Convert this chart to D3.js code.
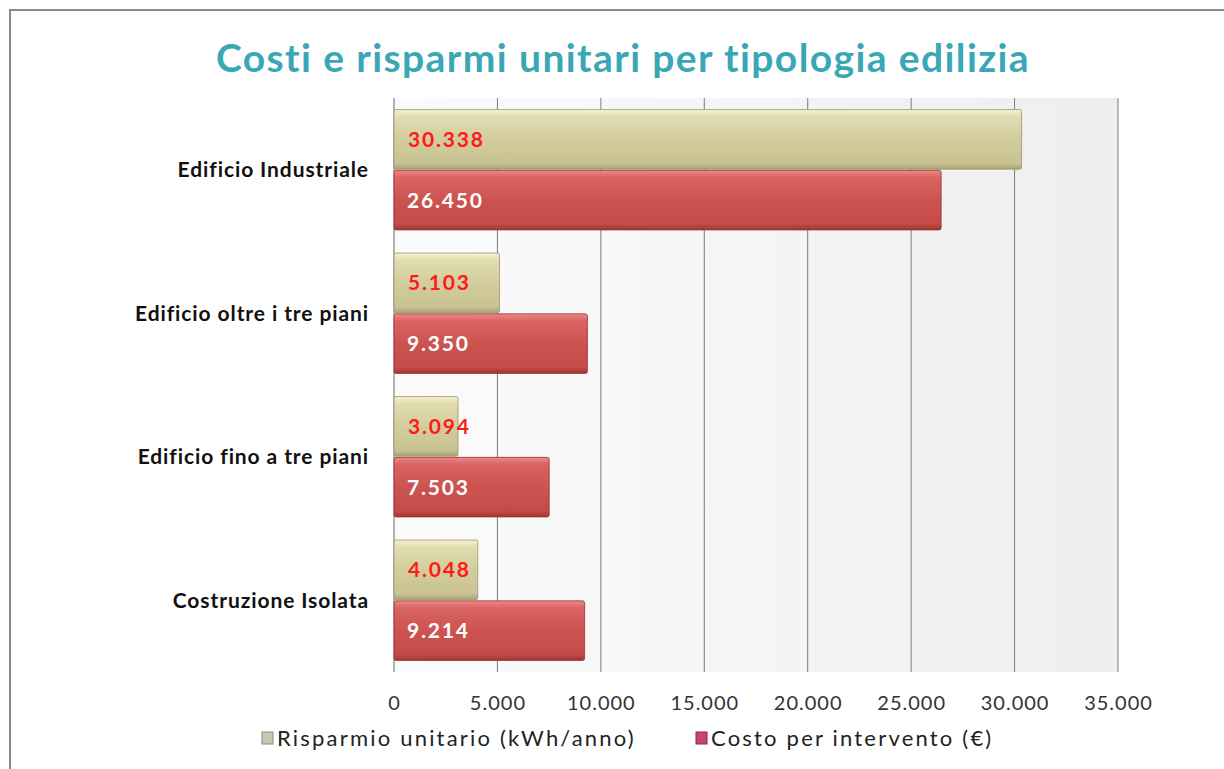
<!DOCTYPE html>
<html>
<head>
<meta charset="utf-8">
<script src="https://cdn.jsdelivr.net/npm/d3@7"></script>
<style>
body { margin: 0; background: #fff; }
svg { display: block; font-family: Lato, "Open Sans", sans-serif; }
</style>
</head>
<body>
<svg width="1224" height="769"></svg>
<script>
// chart data
const categories = ["Edificio Industriale", "Edificio oltre i tre piani", "Edificio fino a tre piani", "Costruzione Isolata"]
const risparmio = [30338, 5103, 3094, 4048]
const costo = [26450, 9350, 7503, 9214]
const seriesNames = ["Risparmio unitario (kWh/anno)", "Costo per intervento (€)"]
const xTicks = [0, 5000, 10000, 15000, 20000, 25000, 30000, 35000]

const svg = d3.select("svg")
const fmt = v => d3.format(",")(v).replace(/,/g, ".")

const PLOT_LEFT = 394, PLOT_RIGHT = 1118, PLOT_TOP = 98, PLOT_BOTTOM = 672

// frame
svg.append("rect")
    .attr("x", 10).attr("y", 10)
    .attr("width", 1230).attr("height", 780)
    .attr("fill", "none").attr("stroke", "#8a8a8a").attr("stroke-width", 2)

const defs = svg.append("defs")
function vgrad(id, stops){
    const g = defs.append("linearGradient").attr("id", id)
        .attr("x1", 0).attr("y1", 0).attr("x2", 0).attr("y2", 1)
    for (var s of stops) g.append("stop").attr("offset", s[0]).attr("stop-color", s[1])
}
vgrad("beige", [[0, "#f6f2d2"], [0.12, "#e2dcb2"], [0.5, "#d3cc9c"], [0.9, "#c9c292"], [1, "#a9a275"]])
vgrad("red", [[0, "#ec8a88"], [0.12, "#d96462"], [0.5, "#cc5350"], [0.9, "#c44b48"], [1, "#9e3634"]])
const bg = defs.append("linearGradient").attr("id", "bg")
    .attr("x1", 0).attr("y1", 0).attr("x2", 1).attr("y2", 0)
bg.append("stop").attr("offset", 0).attr("stop-color", "#fbfbfb")
bg.append("stop").attr("offset", 1).attr("stop-color", "#eeeeee")

const x = d3.scaleLinear().domain([0, 35000]).range([PLOT_LEFT, PLOT_RIGHT])
const y = d3.scaleBand().domain(categories).range([PLOT_TOP, PLOT_BOTTOM])
const inner = d3.scaleBand().domain([0, 1]).range([0, y.bandwidth()]).paddingInner(0.02).paddingOuter(0.19)

// plot background
svg.append("rect")
    .attr("x", PLOT_LEFT).attr("y", PLOT_TOP)
    .attr("width", PLOT_RIGHT - PLOT_LEFT).attr("height", PLOT_BOTTOM - PLOT_TOP)
    .attr("fill", "url(#bg)")

// gridlines
svg.append("g")
    .selectAll("line")
    .data(xTicks)
    .enter().append("line")
    .attr("x1", d => x(d)).attr("x2", d => x(d))
    .attr("y1", PLOT_TOP).attr("y2", PLOT_BOTTOM)
    .attr("stroke", d => d === 0 ? "#666" : "#7c7c7c")
    .attr("stroke-width", 1)

// title
svg.append("text")
    .attr("x", 623).attr("y", 72)
    .attr("text-anchor", "middle")
    .attr("font-size", 39).attr("font-weight", "bold")
    .attr("letter-spacing", 1.4)
    .attr("fill", "#3aa7b6")
    .text("Costi e risparmi unitari per tipologia edilizia")

// bars
const series = [
    {name: seriesNames[0], values: risparmio, fill: "url(#beige)", labelColor: "#ff1a1a", labelDx: 14},
    {name: seriesNames[1], values: costo, fill: "url(#red)", labelColor: "#ffffff", labelDx: 13}
]
series.forEach((s, si) => {
    const g = svg.append("g")
    g.selectAll("rect")
        .data(categories)
        .enter().append("rect")
        .attr("x", x(0))
        .attr("y", d => y(d) + inner(si))
        .attr("width", (d, i) => x(s.values[i]) - x(0))
        .attr("height", inner.bandwidth())
        .attr("rx", 2)
        .attr("fill", s.fill)
        .attr("stroke", si === 0 ? "#9c9670" : "#983230")
        .attr("stroke-width", 0.8)
    g.selectAll("text")
        .data(categories)
        .enter().append("text")
        .attr("x", x(0) + s.labelDx)
        .attr("y", d => y(d) + inner(si) + inner.bandwidth() / 2)
        .attr("dy", "0.36em")
        .attr("font-size", 21).attr("font-weight", "bold")
        .attr("letter-spacing", 1.8)
        .attr("fill", s.labelColor)
        .text((d, i) => fmt(s.values[i]))
})

// category labels
svg.append("g")
    .selectAll("text")
    .data(categories)
    .enter().append("text")
    .attr("x", 369)
    .attr("y", d => y(d) + y.bandwidth() / 2)
    .attr("dy", "0.36em")
    .attr("text-anchor", "end")
    .attr("font-size", 21).attr("font-weight", "bold")
    .attr("letter-spacing", 0.9)
    .attr("fill", "#111")
    .text(d => d)

// x axis
const xAxis = svg.append("g")
    .attr("transform", `translate(0,${PLOT_BOTTOM})`)
    .call(d3.axisBottom(x).tickValues(xTicks).tickFormat(fmt).tickSize(0).tickPadding(24))
xAxis.select(".domain").remove()
xAxis.selectAll("text")
    .attr("font-family", "Lato, 'Open Sans', sans-serif")
    .attr("font-size", 20).attr("letter-spacing", 1).attr("fill", "#333")

// legend
const legend = svg.append("g")
const legendItems = [
    {x: 262, name: seriesNames[0], fill: "#c9c6b4", stroke: "#8f8c7c"},
    {x: 696, name: seriesNames[1], fill: "#c8456d", stroke: "#8a2c48"}
]
legendItems.forEach(it => {
    legend.append("rect")
        .attr("x", it.x).attr("y", 732)
        .attr("width", 11).attr("height", 12)
        .attr("fill", it.fill).attr("stroke", it.stroke).attr("stroke-width", 1)
    legend.append("text")
        .attr("x", it.x + 15).attr("y", 738)
        .attr("dy", "0.36em")
        .attr("font-size", 22).attr("letter-spacing", 2.2).attr("fill", "#222")
        .text(it.name)
})
</script>
</body>
</html>
